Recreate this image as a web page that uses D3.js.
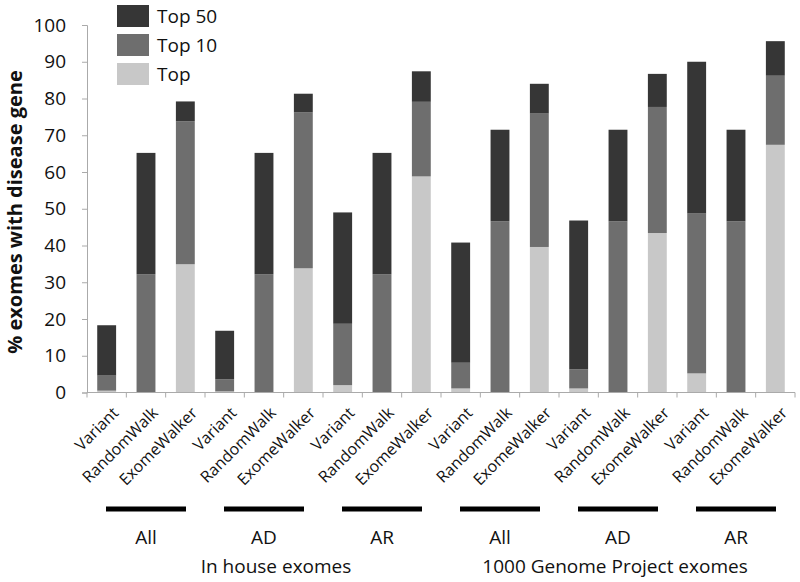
<!DOCTYPE html>
<html><head><meta charset="utf-8">
<script src="https://cdn.jsdelivr.net/npm/d3@7"></script>
<style>body{margin:0;background:#fff}svg{display:block}text{font-family:"Open Sans",Lato,sans-serif}</style>
</head><body><svg id="c" width="800" height="582"></svg>
<script>
const methods = ["Variant","RandomWalk","ExomeWalker"];
const groups = ["All","AD","AR","All","AD","AR"];
const sets = ["In house exomes","1000 Genome Project exomes"];
// cumulative values (% exomes) per bar, in order of 18 bars
const topVals   = [0.5,0,34.9, 0.3,0,33.8, 2.0,0,58.8, 1.1,0,39.6, 1.1,0,43.4, 5.2,0,67.4];
const top10Vals = [4.6,32.2,73.8, 3.6,32.2,76.2, 18.7,32.2,79.1, 8.1,46.6,75.9, 6.3,46.6,77.7, 48.7,46.6,86.2];
const top50Vals = [18.3,65.2,79.2, 16.8,65.2,81.3, 49.0,65.2,87.4, 40.8,71.5,84.0, 46.8,71.5,86.7, 90.0,71.5,95.6];
const yTicks = [0,10,20,30,40,50,60,70,80,90,100];
const seriesNames = ["Top 50","Top 10","Top"];
const colors = {"Top 50":"#363636","Top 10":"#6e6e6e","Top":"#c8c8c8"};

const svg = d3.select("#c");
const ids = d3.range(18);
const x = d3.scaleBand().domain(ids).range([87,795]).paddingInner(0.52).paddingOuter(0.26);
const xb = d3.scaleBand().domain(ids).range([87,795]);
const y = d3.scaleLinear().domain([0,100]).range([392.5,25]);

// y axis
const ya = svg.append("g").attr("transform","translate(87,0)")
  .call(d3.axisLeft(y).tickValues(yTicks).tickSize(5).tickPadding(16));
ya.select(".domain").attr("stroke","#aaa");
ya.selectAll(".tick line").attr("stroke","#aaa");
ya.selectAll(".tick text").attr("font-size",19).attr("fill","#111").attr("font-family","'Open Sans',sans-serif");

// bars
const data = ids.map(i => ({i, top:topVals[i], t10:top10Vals[i], t50:top50Vals[i]}));
const segs = [];
data.forEach(d => {
  segs.push({i:d.i, y0:0, y1:d.top, s:"Top"});
  segs.push({i:d.i, y0:d.top, y1:d.t10, s:"Top 10"});
  segs.push({i:d.i, y0:d.t10, y1:d.t50, s:"Top 50"});
});
svg.append("g").selectAll("rect").data(segs.filter(s=>s.y1>s.y0)).join("rect")
  .attr("x", s=>x(s.i)).attr("width", x.bandwidth())
  .attr("y", s=>y(s.y1)).attr("height", s=>y(s.y0)-y(s.y1))
  .attr("fill", s=>colors[s.s]);

// x axis
const xa = svg.append("g").attr("transform","translate(0,392.5)");
xa.append("line").attr("x1",87).attr("x2",795).attr("stroke","#aaa");
xa.selectAll("line.t").data(d3.range(19)).join("line").attr("class","t")
  .attr("x1",i=>87+i*xb.step()).attr("x2",i=>87+i*xb.step()).attr("y1",0).attr("y2",5).attr("stroke","#aaa");
svg.append("g").selectAll("text").data(ids).join("text")
  .attr("transform", i=>`translate(${xb(i)+xb.bandwidth()/2+5},${406}) rotate(-45)`)
  .attr("text-anchor","end").attr("dy","0.7em").attr("font-size",16).attr("fill","#111")
  .text(i=>methods[i%3]);

// group lines and labels
groups.forEach((g,k) => {
  const cx = 87 + (k*3+1.5)*xb.step();
  svg.append("line").attr("x1",cx-40).attr("x2",cx+40).attr("y1",509).attr("y2",509)
    .attr("stroke","#000").attr("stroke-width",5);
  svg.append("text").attr("x",cx).attr("y",544).attr("text-anchor","middle")
    .attr("font-size",19).attr("fill","#111").text(g);
});
[276,615].forEach((cx,k)=>{
  svg.append("text").attr("x",cx).attr("y",573).attr("text-anchor","middle")
    .attr("font-size",19).attr("fill","#111").text(sets[k]);
});

// y title
svg.append("text").attr("transform","translate(22,212) rotate(-90)").attr("text-anchor","middle")
  .attr("font-size",20).attr("font-weight","bold").attr("fill","#111").text("% exomes with disease gene");

// legend
const lg = svg.append("g").attr("transform","translate(117,5)");
seriesNames.forEach((s,k)=>{
  lg.append("rect").attr("x",0).attr("y",k*29).attr("width",32).attr("height",22).attr("fill",colors[s]);
  lg.append("text").attr("x",40).attr("y",k*29+11).attr("dy","0.36em").attr("font-size",19).attr("fill","#111").text(s);
});
</script></body></html>
